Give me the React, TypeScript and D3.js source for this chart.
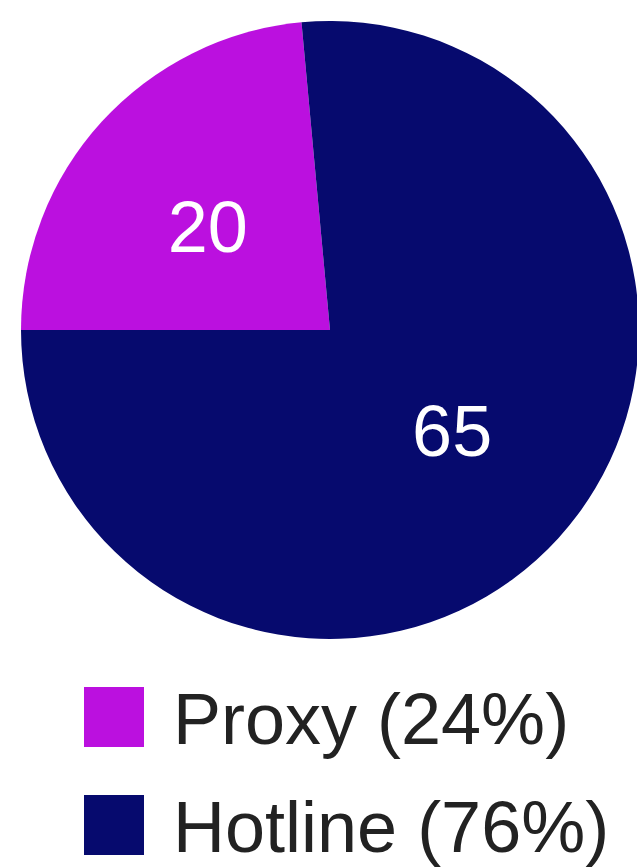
import React from "react";
import * as d3 from "d3";

const categories = ["Proxy", "Hotline"];
const values = [20, 65];
const colors = ["#BB10DF", "#060A6E"];

const W = 637;
const H = 868;

export default function App() {
  const cx = 330;
  const cy = 330;
  const r = 309;
  const total = d3.sum(values);
  const data = categories.map((c, i) => ({ name: c, value: values[i], color: colors[i] }));
  const pie = d3
    .pie<any>()
    .sort(null)
    .value((d: any) => d.value)
    .startAngle(-Math.PI / 2)
    .endAngle((3 * Math.PI) / 2);
  const arcs = pie(data);
  const arc = d3.arc<any>().innerRadius(0).outerRadius(r);
  const lr = r * 0.515;
  const fmt = d3.format(".0%");

  return (
    <svg
      width={W}
      height={H}
      style={{ position: "absolute", left: 0, top: 0, fontFamily: "'Liberation Sans', Arial, sans-serif" }}
    >
      <g transform={`translate(${cx},${cy})`}>
        {arcs.map((a, i) => (
          <path key={i} d={arc(a) as string} fill={a.data.color} />
        ))}
        {arcs.map((a, i) => {
          const mid = (a.startAngle + a.endAngle) / 2 - (2.5 * Math.PI) / 180;
          const x = lr * Math.sin(mid);
          const y = -lr * Math.cos(mid);
          return (
            <text key={i} x={x} y={y + 24} textAnchor="middle" fill="#fff" fontSize={72}>
              {a.data.value}
            </text>
          );
        })}
      </g>
      {data.map((d, i) => (
        <g key={i} transform={`translate(84,${687 + i * 108})`}>
          <rect width={60} height={60} fill={d.color} />
          <text x={89} y={57} fontSize={72} fill="#222">
            {`${d.name} (${fmt(d.value / total)})`}
          </text>
        </g>
      ))}
    </svg>
  );
}
